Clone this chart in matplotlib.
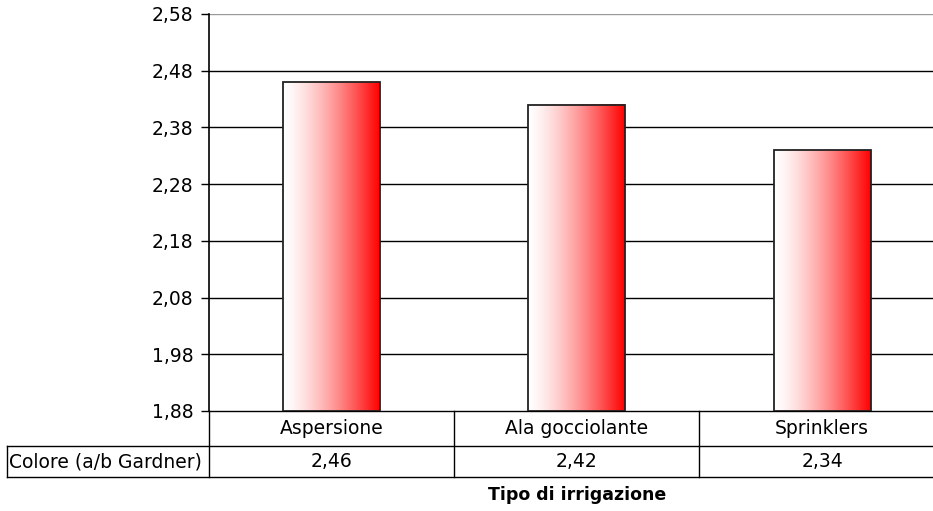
import numpy as np
import matplotlib.pyplot as plt
from matplotlib.colors import LinearSegmentedColormap
from matplotlib.ticker import FixedLocator, FuncFormatter

plt.rcParams['font.family'] = ['DejaVu Sans']

categorie = ["Aspersione", "Ala gocciolante", "Sprinklers"]
valori = [2.46, 2.42, 2.34]
riga_label = "Colore (a/b Gardner)"
yticks = [1.88, 1.98, 2.08, 2.18, 2.28, 2.38, 2.48, 2.58]

fig = plt.figure(figsize=(9.33, 5.11), dpi=100)
ax = fig.add_axes([208.5 / 933, 100 / 511, 736.5 / 933, 397 / 511])

x = np.arange(len(categorie))
ax.set_xlim(-0.5, len(categorie) - 0.5)
ax.set_ylim(1.88, 2.58)

# gradiente bianco -> rosso
t = np.linspace(0, 1, 256)
g = 1 - t ** 1.4
cols = np.stack([np.ones_like(t), g, g], axis=1)
cmap = LinearSegmentedColormap.from_list("wr", cols)
grad = np.linspace(0, 1, 256)[None, :]

w = 0.395
for xi, v in zip(x, valori):
    ax.imshow(grad, cmap=cmap, extent=[xi - w / 2, xi + w / 2, 1.88, v],
              aspect='auto', zorder=3, interpolation='bilinear')
    ax.add_patch(plt.Rectangle((xi - w / 2, 1.88), w, v - 1.88, fill=False,
                               edgecolor='#222222', lw=1.3, zorder=4))

# griglia
for yt in yticks[1:-1]:
    ax.axhline(yt, color='black', lw=1.0, zorder=1)
ax.axhline(yticks[-1], color='#999999', lw=1.0, zorder=1)

ax.yaxis.set_major_locator(FixedLocator(yticks))
ax.yaxis.set_major_formatter(FuncFormatter(lambda v, p: f"{v:.2f}".replace('.', ',')))
ax.tick_params(axis='y', length=6, width=1, labelsize=13.5, pad=5, colors='black')
ax.set_xticks([])
for s in ['top', 'right', 'bottom']:
    ax.spines[s].set_visible(False)
ax.spines['left'].set_linewidth(1.2)

# tabella dati
r1 = -35 / 397
r2 = -66 / 397
xl = (7 - 208.5) / 736.5
tr = ax.transAxes
kw = dict(color='black', lw=1.0, transform=tr, clip_on=False)
ax.plot([0, 1.02], [0, 0], **kw)
ax.plot([xl, 1.02], [r1, r1], **kw)
ax.plot([xl, 1.02], [r2, r2], **kw)
ax.plot([0, 0], [0, r2], **kw)
ax.plot([xl, xl], [r1, r2], **kw)
n = len(categorie)
for i in range(1, n):
    ax.plot([i / n, i / n], [0, r2], **kw)
for i, (c, v) in enumerate(zip(categorie, valori)):
    xc = (i + 0.5) / n
    ax.text(xc, r1 / 2, c, transform=tr, ha='center', va='center', fontsize=13.5)
    ax.text(xc, (r1 + r2) / 2, f"{v:.2f}".replace('.', ','), transform=tr,
            ha='center', va='center', fontsize=13.5)
ax.text(xl + 0.003, (r1 + r2) / 2, riga_label, transform=tr, ha='left',
        va='center', fontsize=13.5)

fig.text(577 / 933, 1 - 495 / 511, "Tipo di irrigazione", ha='center',
         va='center', fontsize=12.5, fontweight='bold')

fig.savefig("out.png", dpi=100)
